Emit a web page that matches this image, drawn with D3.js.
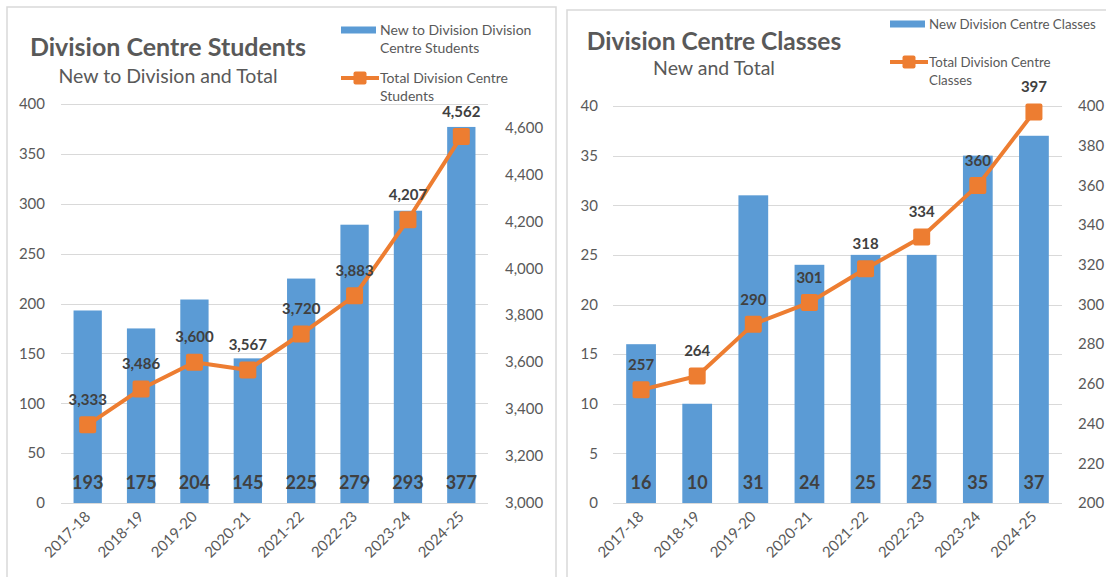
<!DOCTYPE html>
<html>
<head>
<meta charset="utf-8">
<title>Division Centre Students and Classes</title>
<script src="https://d3js.org/d3.v7.min.js"></script>
<style>
  body { margin: 0; background: #fff; }
  text { font-family: Lato, "Open Sans", sans-serif; }
  .grid line { stroke: #d9d9d9; stroke-width: 1; }
</style>
</head>
<body>
<svg id="stage" width="1106" height="577"></svg>
<script>
// data
var years = ["2017-18", "2018-19", "2019-20", "2020-21", "2021-22", "2022-23", "2023-24", "2024-25"];

var newStudents = [193, 175, 204, 145, 225, 279, 293, 377];
var totalStudents = [3333, 3486, 3600, 3567, 3720, 3883, 4207, 4562];
var studentLeftTicks = [0, 50, 100, 150, 200, 250, 300, 350, 400];
var studentRightTicks = [3000, 3200, 3400, 3600, 3800, 4000, 4200, 4400, 4600];

var newClasses = [16, 10, 31, 24, 25, 25, 35, 37];
var totalClasses = [257, 264, 290, 301, 318, 334, 360, 397];
var classLeftTicks = [0, 5, 10, 15, 20, 25, 30, 35, 40];
var classRightTicks = [200, 220, 240, 260, 280, 300, 320, 340, 360, 380, 400];

var svg = d3.select("#stage");
var fmt = d3.format(",");
var BLUE = "#5b9bd5", ORANGE = "#ed7d31", GREY = "#595959", DARK = "#404040";

svg.append("rect").attr("width", 1106).attr("height", 577).attr("fill", "#fff");

function drawChart(c) {
  var g = svg.append("g");

  // frame
  g.append("rect")
    .attr("x", c.box[0]).attr("y", c.box[1])
    .attr("width", c.box[2]).attr("height", c.box[3])
    .attr("fill", "none").attr("stroke", "#d9d9d9").attr("stroke-width", 1.5);

  var x = d3.scaleBand().domain(years).range([c.left, c.right]).paddingInner(0.47).paddingOuter(0.235);
  var y = d3.scaleLinear().domain([c.leftTicks[0], c.leftTicks[c.leftTicks.length - 1]]).range([c.bottom, c.top]);
  var y2 = d3.scaleLinear().domain(c.rightDomain).range([c.bottom, c.top]);

  // gridlines
  g.append("g").attr("class", "grid")
    .selectAll("line").data(c.leftTicks).enter().append("line")
      .attr("x1", c.left).attr("x2", c.right)
      .attr("y1", function(d) { return Math.round(y(d)) + 0.5; })
      .attr("y2", function(d) { return Math.round(y(d)) + 0.5; });

  // left axis labels
  g.append("g").selectAll("text").data(c.leftTicks).enter().append("text")
    .attr("x", c.leftLabelX).attr("y", function(d) { return y(d); })
    .attr("dy", "0.35em").attr("text-anchor", "end")
    .attr("font-size", 15).attr("fill", GREY)
    .text(function(d) { return fmt(d); });

  // right axis labels
  g.append("g").selectAll("text").data(c.rightTicks).enter().append("text")
    .attr("x", c.rightLabelX).attr("y", function(d) { return y2(d); })
    .attr("dy", "0.35em").attr("text-anchor", "start")
    .attr("font-size", 15).attr("fill", GREY)
    .text(function(d) { return fmt(d); });

  // x labels
  g.append("g").selectAll("text").data(years).enter().append("text")
    .attr("transform", function(d) {
      return "translate(" + (x(d) + x.bandwidth() / 2) + "," + (c.bottom + 11) + ") rotate(-45)";
    })
    .attr("text-anchor", "end").attr("dy", "0.35em")
    .attr("font-size", 15).attr("fill", GREY)
    .text(function(d) { return d; });

  // bars
  g.append("g").selectAll("rect").data(c.bars).enter().append("rect")
    .attr("x", function(d, i) { return x(years[i]); })
    .attr("y", function(d) { return y(d); })
    .attr("width", x.bandwidth())
    .attr("height", function(d) { return c.bottom - y(d); })
    .attr("fill", BLUE);

  // bar labels
  g.append("g").selectAll("text").data(c.bars).enter().append("text")
    .attr("x", function(d, i) { return x(years[i]) + x.bandwidth() / 2; })
    .attr("y", c.bottom - 20).attr("dy", "0.35em")
    .attr("text-anchor", "middle").attr("font-size", 18).attr("font-weight", "bold")
    .attr("fill", DARK)
    .text(function(d) { return fmt(d); });

  // total line
  var line = d3.line()
    .x(function(d, i) { return x(years[i]) + x.bandwidth() / 2; })
    .y(function(d) { return y2(d); });

  g.append("path").datum(c.totals)
    .attr("d", line).attr("fill", "none")
    .attr("stroke", ORANGE).attr("stroke-width", 4).attr("stroke-linejoin", "round");

  g.append("g").selectAll("rect").data(c.totals).enter().append("rect")
    .attr("x", function(d, i) { return x(years[i]) + x.bandwidth() / 2 - 8.5; })
    .attr("y", function(d) { return y2(d) - 8.5; })
    .attr("width", 17).attr("height", 17).attr("rx", 2)
    .attr("fill", ORANGE);

  g.append("g").selectAll("text").data(c.totals).enter().append("text")
    .attr("x", function(d, i) { return x(years[i]) + x.bandwidth() / 2; })
    .attr("y", function(d) { return y2(d) - 25; }).attr("dy", "0.35em")
    .attr("text-anchor", "middle").attr("font-size", 15).attr("font-weight", "bold")
    .attr("fill", DARK)
    .text(function(d) { return fmt(d); });

  // titles
  g.append("text").attr("x", c.titleX).attr("y", c.titleY)
    .attr("text-anchor", "middle").attr("dy", "0.35em")
    .attr("font-size", c.titleSize).attr("font-weight", "bold")
    .attr("fill", GREY).text(c.title);
  g.append("text").attr("x", c.titleX).attr("y", c.subY)
    .attr("text-anchor", "middle").attr("dy", "0.35em")
    .attr("font-size", c.subSize)
    .attr("fill", GREY).text(c.subtitle);

  // legend
  var lg = g.append("g").attr("transform", "translate(" + c.legend[0] + "," + c.legend[1] + ")");
  lg.append("rect").attr("x", 0).attr("y", -3.5).attr("width", 35).attr("height", 7).attr("fill", BLUE);
  c.legendBar.forEach(function(t, i) {
    lg.append("text").attr("x", 39).attr("y", i * 18.5).attr("dy", "0.35em")
      .attr("font-size", c.legendSize).attr("fill", GREY).text(t);
  });
  var oy = c.legendGap;
  lg.append("line").attr("x1", 0).attr("x2", 38).attr("y1", oy).attr("y2", oy)
    .attr("stroke", ORANGE).attr("stroke-width", 4);
  lg.append("rect").attr("x", 12.5).attr("y", oy - 6.5).attr("width", 13).attr("height", 13).attr("rx", 2)
    .attr("fill", ORANGE);
  c.legendLine.forEach(function(t, i) {
    lg.append("text").attr("x", 39).attr("y", oy + i * 18.5).attr("dy", "0.35em")
      .attr("font-size", c.legendSize).attr("fill", GREY).text(t);
  });
}

drawChart({
  box: [7, 7, 549, 590],
  left: 61, right: 488, top: 104, bottom: 503,
  leftTicks: studentLeftTicks, rightTicks: studentRightTicks, rightDomain: [3000, 4700],
  leftLabelX: 45, rightLabelX: 505,
  bars: newStudents, totals: totalStudents,
  title: "Division Centre Students", titleX: 168, titleY: 47, titleSize: 25,
  subtitle: "New to Division and Total", subY: 76, subSize: 19.5,
  legend: [341, 30], legendGap: 48, legendSize: 14,
  legendBar: ["New to Division Division", "Centre Students"],
  legendLine: ["Total Division Centre", "Students"]
});

drawChart({
  box: [567, 10, 560, 590],
  left: 613, right: 1062, top: 106, bottom: 503,
  leftTicks: classLeftTicks, rightTicks: classRightTicks, rightDomain: [200, 400],
  leftLabelX: 598, rightLabelX: 1078,
  bars: newClasses, totals: totalClasses,
  title: "Division Centre Classes", titleX: 714, titleY: 41, titleSize: 24.5,
  subtitle: "New and Total", subY: 68, subSize: 19.5,
  legend: [890, 24], legendGap: 38, legendSize: 13.3,
  legendBar: ["New Division Centre Classes"],
  legendLine: ["Total Division Centre", "Classes"]
});
</script>
</body>
</html>
